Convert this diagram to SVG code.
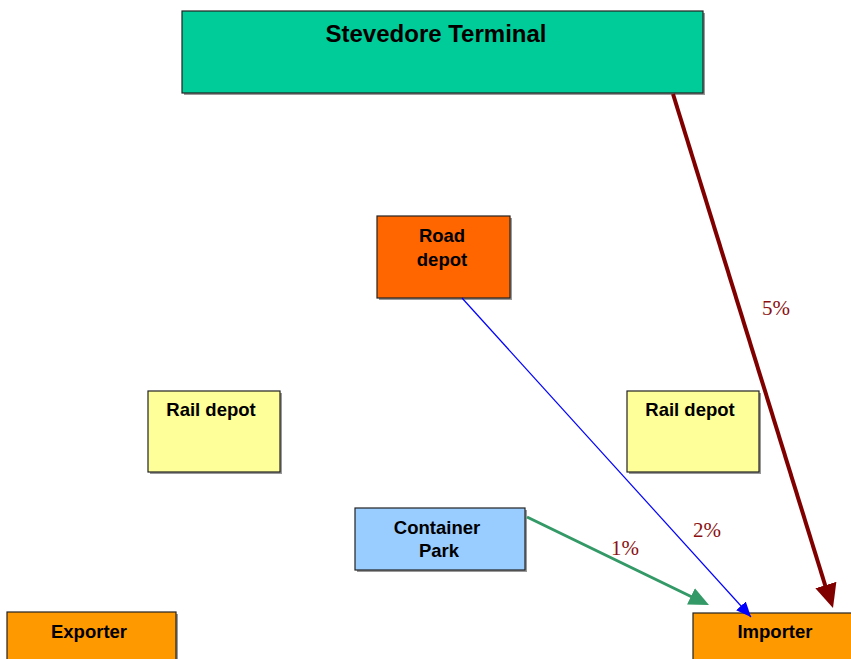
<svg xmlns="http://www.w3.org/2000/svg" width="851" height="659" viewBox="0 0 851 659">
<style>
.box{stroke:#222;stroke-width:1.2}
.sh{fill:#999}
.t{font-family:"Liberation Sans",Arial,sans-serif;font-weight:bold;fill:#000;text-anchor:middle}
.pct{font-family:"Liberation Serif","Times New Roman",serif;font-size:21px;fill:#8B1010;text-anchor:middle}
</style>
<defs>
<marker id="mBrown" markerUnits="userSpaceOnUse" markerWidth="26" markerHeight="24" refX="24" refY="11" orient="auto" viewBox="0 0 26 22"><path d="M0,0 L24,11 L0,22 z" fill="#800000"/></marker>
<marker id="mBlue" markerUnits="userSpaceOnUse" markerWidth="16" markerHeight="14" refX="15" refY="6.5" orient="auto" viewBox="0 0 16 13"><path d="M0,0 L15,6.5 L0,13 z" fill="#0000FF"/></marker>
<marker id="mGreen" markerUnits="userSpaceOnUse" markerWidth="22" markerHeight="20" refX="20" refY="9" orient="auto" viewBox="0 0 22 18"><path d="M0,0 L20,9 L0,18 z" fill="#339966"/></marker>
</defs>
<rect width="851" height="659" fill="#fff"/>
<g id="stevedore">
<rect class="sh" x="184" y="13" width="521" height="82"/>
<rect class="box" x="182" y="11" width="521" height="82" fill="#00CC99"/>
<text class="t" x="436" y="42" font-size="24">Stevedore Terminal</text>
</g>
<g id="road-depot">
<rect class="sh" x="379" y="218" width="133" height="82"/>
<rect class="box" x="377" y="216" width="133" height="82" fill="#FF6600"/>
<text class="t" x="442" y="242" font-size="18.5">Road</text>
<text class="t" x="442" y="266" font-size="18.5">depot</text>
</g>
<g id="rail-depot-left">
<rect class="sh" x="150" y="393" width="132" height="81"/>
<rect class="box" x="148" y="391" width="132" height="81" fill="#FFFF99"/>
<text class="t" x="211" y="416" font-size="18.5">Rail depot</text>
</g>
<g id="rail-depot-right">
<rect class="sh" x="629" y="393" width="132" height="81"/>
<rect class="box" x="627" y="391" width="132" height="81" fill="#FFFF99"/>
<text class="t" x="690" y="416" font-size="18.5">Rail depot</text>
</g>
<g id="container-park">
<rect class="sh" x="357" y="510" width="170" height="62"/>
<rect class="box" x="355" y="508" width="170" height="62" fill="#99CCFF"/>
<text class="t" x="437" y="534" font-size="18.5">Container</text>
<text class="t" x="439" y="557" font-size="18.5">Park</text>
</g>
<g id="exporter">
<rect class="sh" x="9" y="614" width="169" height="50"/>
<rect class="box" x="7" y="612" width="169" height="50" fill="#FF9900"/>
<text class="t" x="89" y="638" font-size="18.5">Exporter</text>
</g>
<g id="importer">
<rect class="box" x="693" y="613" width="165" height="50" fill="#FF9900"/>
<text class="t" x="775" y="638" font-size="18.5">Importer</text>
</g>
<g id="connectors">
<line x1="673" y1="94" x2="826" y2="588" stroke="#800000" stroke-width="4"/>
<line x1="673" y1="94" x2="833" y2="608" stroke="none" marker-end="url(#mBrown)"/>
<line x1="462" y1="298" x2="751" y2="617" stroke="#0000FF" stroke-width="1.2" marker-end="url(#mBlue)"/>
<line x1="527" y1="517" x2="692" y2="597" stroke="#339966" stroke-width="3"/>
<line x1="527" y1="517" x2="709" y2="605" stroke="none" marker-end="url(#mGreen)"/>
<text class="pct" x="776" y="315">5%</text>
<text class="pct" x="707" y="537">2%</text>
<text class="pct" x="625" y="555">1%</text>
</g>
</svg>
